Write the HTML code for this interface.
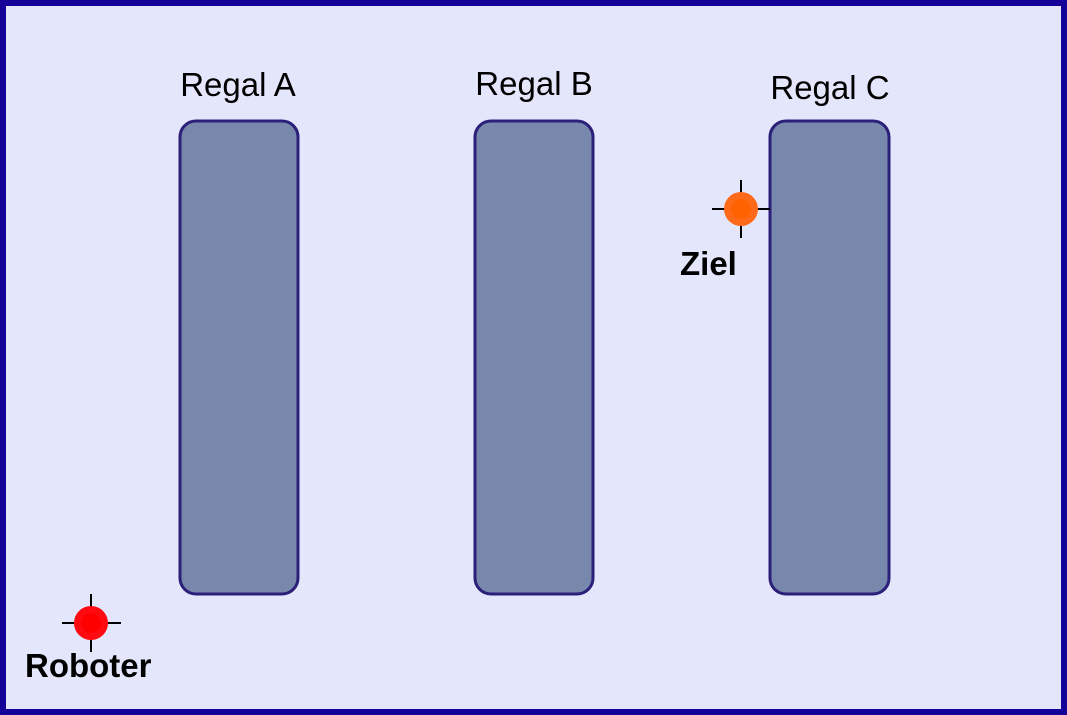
<!DOCTYPE html>
<html><head><style>body{margin:0;background:#fff}svg{display:block}</style></head><body>
<svg width="1067" height="715" xmlns="http://www.w3.org/2000/svg" font-family="Liberation Sans, sans-serif">
<rect x="3" y="3" width="1061" height="709" fill="#e4e6fb" stroke="#16009a" stroke-width="6"/>
<g fill="#7888ad" stroke="#2b1f7a" stroke-width="3">
<rect x="180" y="121" width="118" height="473" rx="16"/>
<rect x="475" y="121" width="118" height="473" rx="16"/>
<rect x="770" y="121" width="119" height="473" rx="16"/>
</g>
<g font-size="33" text-anchor="middle" fill="#000">
<text x="238" y="96">Regal A</text>
<text x="534" y="95">Regal B</text>
<text x="830" y="99">Regal C</text>
</g>
<g stroke="#000" stroke-width="2">
<line x1="712" y1="209" x2="770" y2="209"/><line x1="741" y1="180" x2="741" y2="238"/>
<line x1="62" y1="623" x2="121" y2="623"/><line x1="91" y1="594" x2="91" y2="652"/>
</g>
<circle cx="741" cy="209" r="17" fill="#ff6a1a"/><circle cx="741" cy="209" r="10" fill="#ff6200"/>
<circle cx="91" cy="623" r="17" fill="#ff0a10"/><circle cx="91" cy="623" r="10" fill="#ff0000"/>
<g font-size="33" font-weight="bold" fill="#000">
<text x="680" y="275">Ziel</text>
<text x="25" y="677">Roboter</text>
</g>
</svg>
</body></html>
